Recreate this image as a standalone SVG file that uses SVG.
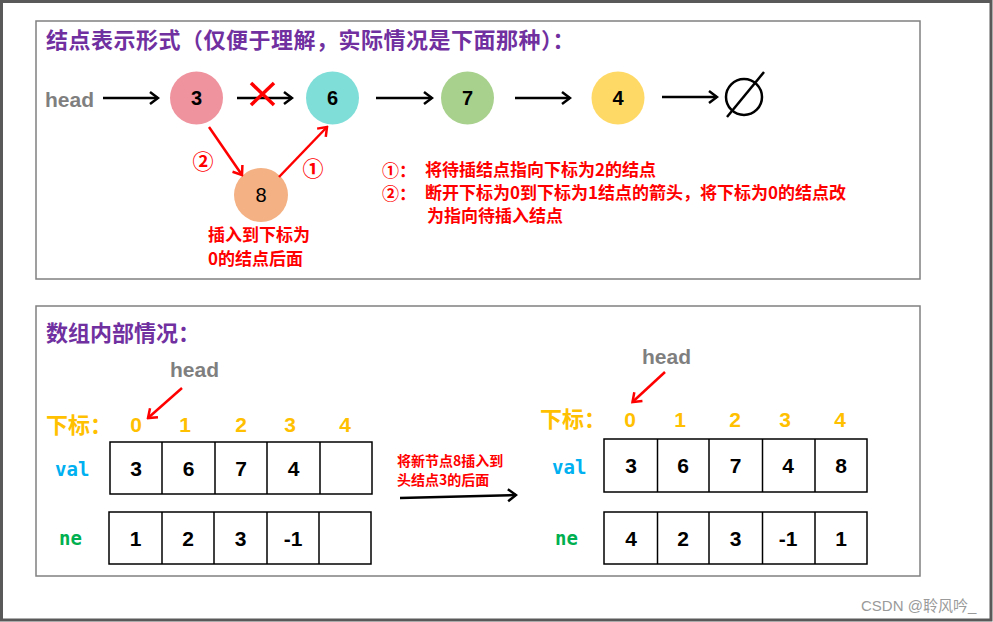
<svg xmlns="http://www.w3.org/2000/svg" width="993" height="622" viewBox="0 0 993 622">
<style>
.panel{fill:none;stroke:#808080;stroke-width:1.5}
.title{font-family:"Noto Sans CJK SC",sans-serif;font-weight:bold;font-size:22px;fill:#7030A0}
.head{font-family:"Liberation Sans",Arial,sans-serif;font-weight:bold;font-size:21px;fill:#7F7F7F}
.num{font-family:"Liberation Sans",Arial,sans-serif;font-size:20px;fill:#000;text-anchor:middle}
.b{font-weight:bold}
.red{font-family:"Noto Sans CJK SC",sans-serif;font-weight:bold;font-size:17px;fill:#FF0000}
.circ{font-family:"Noto Sans CJK SC",sans-serif;font-weight:bold;font-size:21px;fill:#FF0000;text-anchor:middle}
.blk{stroke:#000;stroke-width:2.5;fill:none}
.rl{stroke:#FF0000;stroke-width:2.5;fill:none}
.idxl{font-family:"Noto Sans CJK SC",sans-serif;font-weight:bold;font-size:22px;fill:#FFC000}
.idx{font-family:"Liberation Sans",Arial,sans-serif;font-weight:bold;font-size:21px;fill:#FFC000;text-anchor:middle}
.cell{fill:none;stroke:#000;stroke-width:1.5}
.cv{font-family:"Liberation Sans",Arial,sans-serif;font-weight:bold;font-size:21px;fill:#000;text-anchor:middle}
.mono{font-family:"DejaVu Sans Mono","Liberation Mono",monospace;font-weight:bold;font-size:19px}
.mid{font-family:"Noto Sans CJK SC",sans-serif;font-weight:bold;font-size:14px;fill:#FF0000}
</style>
<defs>
<marker id="ah" viewBox="-10 -8 12 16" refX="0" refY="0" markerWidth="12" markerHeight="16" markerUnits="userSpaceOnUse" orient="auto">
<path d="M-8,-6 L0,0 L-8,6" fill="none" stroke="#000" stroke-width="2.5"/>
</marker>
<marker id="ahr" viewBox="-10 -8 12 16" refX="0" refY="0" markerWidth="12" markerHeight="16" markerUnits="userSpaceOnUse" orient="auto">
<path d="M-8,-6 L0,0 L-8,6" fill="none" stroke="#FF0000" stroke-width="2.5"/>
</marker>
</defs>
<rect x="0" y="0" width="993" height="622" fill="#fff"/>
<rect x="1.5" y="1.5" width="989.5" height="618.5" fill="none" stroke="#595959" stroke-width="3"/>

<!-- Top panel -->
<g id="panel-top">
<rect class="panel" x="36" y="21" width="884" height="258"/>
<text class="title" x="46" y="48" letter-spacing="0.5">结点表示形式（仅便于理解，实际情况是下面那种）：</text>
</g>
<g id="head-top"><text class="head" x="45" y="107">head</text></g>
<g id="node-3"><circle cx="196.5" cy="98" r="26.5" fill="#EF949F"/><text class="num b" x="196.5" y="105">3</text></g>
<g id="node-6"><circle cx="332.5" cy="98" r="26.5" fill="#80DED9"/><text class="num b" x="332.5" y="105">6</text></g>
<g id="node-7"><circle cx="467.5" cy="98" r="26.5" fill="#A9D18E"/><text class="num b" x="467.5" y="105">7</text></g>
<g id="node-4"><circle cx="618" cy="98" r="26.5" fill="#FFD966"/><text class="num b" x="618" y="105">4</text></g>
<g id="node-8"><circle cx="261" cy="195" r="27" fill="#F4B183"/><text class="num" x="261" y="202">8</text></g>
<g id="null">
<circle cx="744" cy="97" r="18" class="blk"/>
<line x1="727" y1="117" x2="764" y2="72" class="blk"/>
</g>
<g id="connectors">
<line x1="103" y1="98" x2="158" y2="98" class="blk" marker-end="url(#ah)"/>
<line x1="237" y1="98" x2="292" y2="98" class="blk" marker-end="url(#ah)"/>
<line x1="376" y1="98" x2="432" y2="98" class="blk" marker-end="url(#ah)"/>
<line x1="515" y1="98" x2="570" y2="98" class="blk" marker-end="url(#ah)"/>
<line x1="662" y1="97" x2="717" y2="97" class="blk" marker-end="url(#ah)"/>
<line x1="251" y1="83" x2="274" y2="105" stroke="#FF0000" stroke-width="3.5"/>
<line x1="274" y1="83" x2="251" y2="105" stroke="#FF0000" stroke-width="3.5"/>
<line x1="209" y1="127" x2="242" y2="175" class="rl" marker-end="url(#ahr)"/>
<line x1="279" y1="177" x2="327" y2="127" class="rl" marker-end="url(#ahr)"/>
<line x1="182" y1="388" x2="148" y2="418" class="rl" marker-end="url(#ahr)"/>
<line x1="665" y1="372" x2="632.5" y2="402" class="rl" marker-end="url(#ahr)"/>
<line x1="400" y1="498" x2="516" y2="495" class="blk" marker-end="url(#ah)"/>
</g>
<g id="labels-top">
<text class="circ" x="203" y="169">②</text>
<text class="circ" x="313" y="176">①</text>
<text class="red" font-size="16.5"><tspan x="208" y="241">插入到下标为</tspan><tspan x="208" y="265">0的结点后面</tspan></text>
<text class="red" x="382" y="177" font-size="20">①：</text>
<text class="red" x="425" y="176">将待插结点指向下标为2的结点</text>
<text class="red" x="382" y="200" font-size="20">②：</text>
<text class="red" x="425" y="199">断开下标为0到下标为1结点的箭头，将下标为0的结点改</text>
<text class="red" x="427" y="222">为指向待插入结点</text>
</g>

<!-- Bottom panel -->
<g id="panel-bottom">
<rect class="panel" x="36" y="306" width="884" height="270"/>
<text class="title" x="46" y="341">数组内部情况：</text>
</g>
<g id="array-before">
<text class="head" x="170" y="377">head</text>
<text class="idxl" x="46" y="433">下标：</text>
<text class="idx" x="136" y="432">0</text>
<text class="idx" x="185" y="432">1</text>
<text class="idx" x="241" y="432">2</text>
<text class="idx" x="290" y="432">3</text>
<text class="idx" x="345" y="432">4</text>
<text class="mono" x="55" y="476" fill="#00B0F0">val</text>
<rect class="cell" x="110" y="442" width="262" height="52"/>
<line class="cell" x1="162" y1="442" x2="162" y2="494"/>
<line class="cell" x1="215" y1="442" x2="215" y2="494"/>
<line class="cell" x1="267" y1="442" x2="267" y2="494"/>
<line class="cell" x1="320" y1="442" x2="320" y2="494"/>
<text class="cv" x="136" y="476">3</text>
<text class="cv" x="188.5" y="476">6</text>
<text class="cv" x="241" y="476">7</text>
<text class="cv" x="293.5" y="476">4</text>
<text class="mono" x="59" y="545" fill="#00B050">ne</text>
<rect class="cell" x="109" y="512" width="262" height="52"/>
<line class="cell" x1="162" y1="512" x2="162" y2="564"/>
<line class="cell" x1="214" y1="512" x2="214" y2="564"/>
<line class="cell" x1="267" y1="512" x2="267" y2="564"/>
<line class="cell" x1="319" y1="512" x2="319" y2="564"/>
<text class="cv" x="135.5" y="546">1</text>
<text class="cv" x="188" y="546">2</text>
<text class="cv" x="240.5" y="546">3</text>
<text class="cv" x="293" y="546">-1</text>
</g>
<g id="transition">
<text class="mid"><tspan x="397" y="466">将新节点8插入到</tspan><tspan x="397" y="485">头结点3的后面</tspan></text>
</g>
<g id="array-after">
<text class="head" x="642" y="364">head</text>
<text class="idxl" x="540" y="427">下标：</text>
<text class="idx" x="630" y="427">0</text>
<text class="idx" x="680" y="427">1</text>
<text class="idx" x="735" y="427">2</text>
<text class="idx" x="785" y="427">3</text>
<text class="idx" x="840" y="427">4</text>
<text class="mono" x="552" y="474" fill="#00B0F0">val</text>
<rect class="cell" x="604" y="439" width="263" height="53"/>
<line class="cell" x1="657.5" y1="439" x2="657.5" y2="492"/>
<line class="cell" x1="709" y1="439" x2="709" y2="492"/>
<line class="cell" x1="762.5" y1="439" x2="762.5" y2="492"/>
<line class="cell" x1="815" y1="439" x2="815" y2="492"/>
<text class="cv" x="631" y="473">3</text>
<text class="cv" x="683" y="473">6</text>
<text class="cv" x="735.5" y="473">7</text>
<text class="cv" x="788" y="473">4</text>
<text class="cv" x="841" y="473">8</text>
<text class="mono" x="555" y="545" fill="#00B050">ne</text>
<rect class="cell" x="604" y="512" width="263" height="52"/>
<line class="cell" x1="657.5" y1="512" x2="657.5" y2="564"/>
<line class="cell" x1="709" y1="512" x2="709" y2="564"/>
<line class="cell" x1="762.5" y1="512" x2="762.5" y2="564"/>
<line class="cell" x1="815" y1="512" x2="815" y2="564"/>
<text class="cv" x="631" y="546">4</text>
<text class="cv" x="683" y="546">2</text>
<text class="cv" x="735.5" y="546">3</text>
<text class="cv" x="788" y="546">-1</text>
<text class="cv" x="841" y="546">1</text>
</g>
<text x="861" y="611" font-family="'Liberation Sans','Noto Sans CJK SC',sans-serif" font-size="15" fill="#9A9A9A">CSDN @聆风吟_</text>
</svg>
